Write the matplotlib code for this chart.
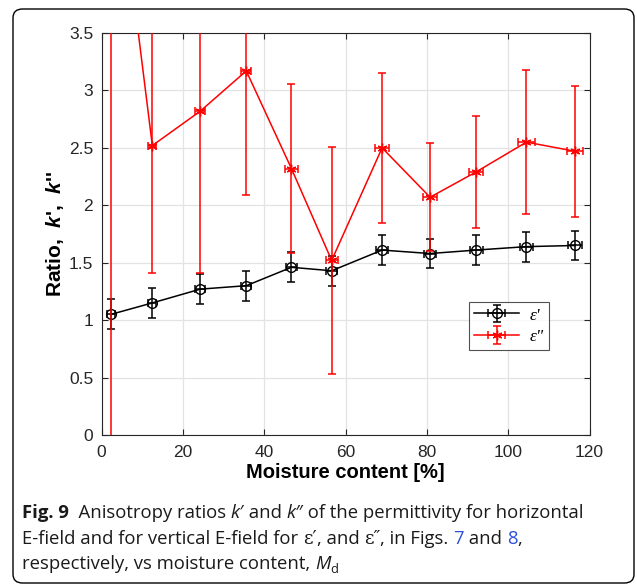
import matplotlib

matplotlib.use("Agg")
import matplotlib.pyplot as plt  # noqa: E402
from matplotlib.patches import FancyBboxPatch  # noqa: E402

# moisture content [%]
moisture = [2.3, 12.5, 24.3, 35.6, 46.7, 56.6, 69.0, 80.8, 92.1, 104.5, 116.5]
moisture_err_1 = [1.0, 1.0, 1.2, 1.2, 1.3, 1.3, 1.5, 1.5, 1.6, 1.7, 1.7]
moisture_err_2 = [1.0, 1.0, 1.2, 1.2, 1.5, 1.5, 1.7, 1.7, 1.8, 2.0, 2.0]

# k' (eps') and k'' (eps'')
k_real = [1.05, 1.15, 1.27, 1.30, 1.46, 1.43, 1.61, 1.58, 1.61, 1.64, 1.65]
k_real_err = [0.13, 0.13, 0.13, 0.13, 0.13, 0.13, 0.13, 0.13, 0.13, 0.13, 0.13]
k_imag = [5.42, 2.52, 2.82, 3.17, 2.32, 1.52, 2.50, 2.07, 2.29, 2.55, 2.47]
k_imag_err = [6.0, 1.11, 1.41, 1.08, 0.735, 0.99, 0.65, 0.47, 0.49, 0.63, 0.57]

legend_labels = ["\u03b5'", '\u03b5"']
x_ticks = [0, 20, 40, 60, 80, 100, 120]
y_ticks = [0, 0.5, 1, 1.5, 2, 2.5, 3, 3.5]

plt.rcParams["font.family"] = ["Liberation Sans", "DejaVu Sans"]
plt.rcParams["mathtext.fontset"] = "custom"
plt.rcParams["mathtext.it"] = "Liberation Sans:italic"
plt.rcParams["mathtext.bfit"] = "Liberation Sans:italic:bold"
plt.rcParams["mathtext.rm"] = "Liberation Sans"

W, H = 637, 586
fig = plt.figure(figsize=(W / 100, H / 100), dpi=100)

# rounded frame around figure + caption
frame = FancyBboxPatch(
    (13 / W, 3 / H), 621 / W, 574 / H,
    boxstyle="round,pad=0,rounding_size=0.015",
    transform=fig.transFigure, facecolor="white", edgecolor="black",
    linewidth=1.0, zorder=0,
)
fig.patches.append(frame)

ax = fig.add_axes([101.5 / W, 1 - 435 / H, 488 / W, 402 / H])
ax.set_zorder(2)

ax.errorbar(
    moisture, k_real, yerr=k_real_err, xerr=moisture_err_1,
    color="black", marker="o", markersize=7, markerfacecolor="none",
    linewidth=1.1, elinewidth=1.1, capsize=3.2, capthick=1.1,
    label=legend_labels[0], zorder=3,
)
ax.errorbar(
    moisture, k_imag, yerr=k_imag_err, xerr=moisture_err_2,
    color="red", marker=(6, 2, 0), markersize=7,
    linewidth=1.1, elinewidth=1.1, capsize=3.2, capthick=1.1,
    label=legend_labels[1], zorder=4,
)

ax.set_xlim(0, 120)
ax.set_ylim(0, 3.5)
ax.set_xticks(x_ticks)
ax.set_yticks(y_ticks)
ax.set_yticklabels(["0", "0.5", "1", "1.5", "2", "2.5", "3", "3.5"])
ax.tick_params(direction="in", top=True, right=True, labelsize=12.5,
               length=4, width=0.8, colors="#262626", pad=6)
ax.tick_params(axis="x", pad=7)
ax.grid(True, color="#e3e3e3", linewidth=0.9)
ax.set_axisbelow(True)
for spine in ax.spines.values():
    spine.set_color("#262626")
    spine.set_linewidth(0.8)

ax.set_xlabel("Moisture content [%]", fontsize=14.5, fontweight="bold", labelpad=2)
ax.set_ylabel(r"Ratio,  $\mathbfit{k}$',  $\mathbfit{k}$''",
              fontsize=15, fontweight="bold", labelpad=2)

leg = ax.legend(
    loc="upper left", bbox_to_anchor=(0.735, 0.352),
    prop={"family": "Liberation Serif", "style": "italic", "size": 12.5},
    frameon=True, fancybox=False, edgecolor="#262626",
    borderpad=0.3, handlelength=2.6, labelspacing=0.3, handletextpad=0.6,
)
leg.get_frame().set_linewidth(0.8)

# caption, drawn piece by piece so fonts and colours can change mid-line
caption = [
    [("Fig. 9", "bold", "normal", "#1a1a1a"),
     ("  Anisotropy ratios ", "normal", "normal", "#1a1a1a"),
     ("k\u2032", "normal", "italic", "#1a1a1a"),
     (" and ", "normal", "normal", "#1a1a1a"),
     ("k\u2033", "normal", "italic", "#1a1a1a"),
     (" of the permittivity for horizontal", "normal", "normal", "#1a1a1a")],
    [("E-field and for vertical E-field for ", "normal", "normal", "#1a1a1a"),
     ("\u03b5\u2032", "serif", "normal", "#1a1a1a"),
     (", and ", "normal", "normal", "#1a1a1a"),
     ("\u03b5\u2033", "serif", "normal", "#1a1a1a"),
     (", in Figs. ", "normal", "normal", "#1a1a1a"),
     ("7", "normal", "normal", "#2b4fd8"),
     (" and ", "normal", "normal", "#1a1a1a"),
     ("8", "normal", "normal", "#2b4fd8"),
     (",", "normal", "normal", "#1a1a1a")],
    [("respectively, vs moisture content, ", "normal", "normal", "#1a1a1a"),
     ("M", "normal", "italic", "#1a1a1a"),
     ("d", "sub", "normal", "#1a1a1a")],
]
baselines = [518, 544, 569]
fig.canvas.draw()
renderer = fig.canvas.get_renderer()
cap_size = 13.3
for line, base in zip(caption, baselines):
    x = 22
    for text, weight, style, color in line:
        family = ["Open Sans", "DejaVu Sans"]
        size = cap_size
        y = base
        if weight == "serif":
            family = ["DejaVu Serif"]
            weight = "normal"
        if weight == "sub":
            weight = "normal"
            size = cap_size * 0.7
            y = base + 4
        t = fig.text(x / W, 1 - y / H, text, fontsize=size, fontweight=weight,
                     fontstyle=style, color=color, family=family,
                     va="baseline", ha="left")
        x += t.get_window_extent(renderer).width

fig.savefig("out.png", dpi=100)
